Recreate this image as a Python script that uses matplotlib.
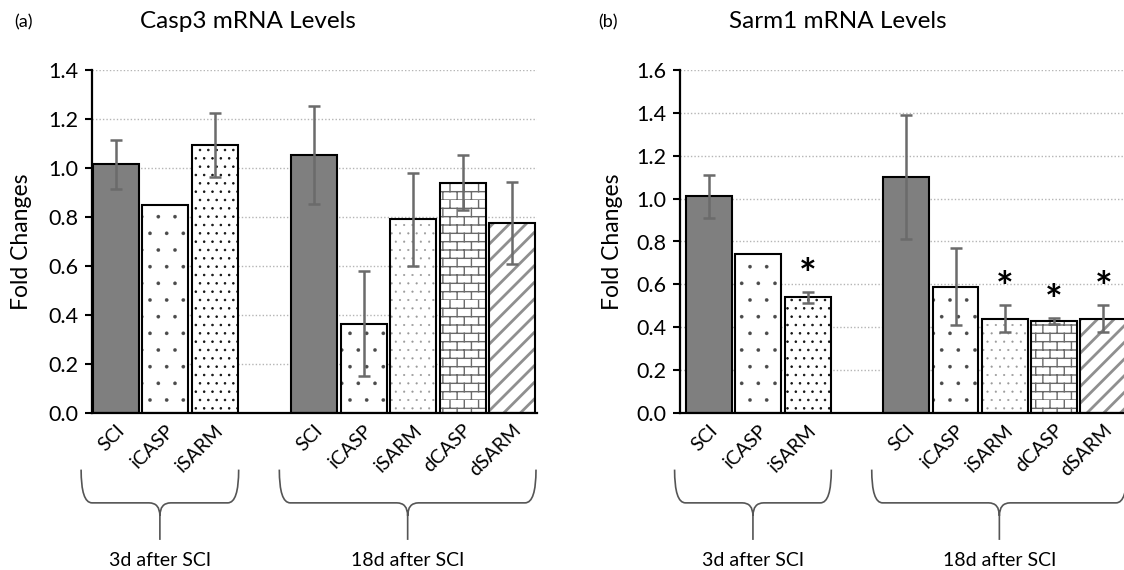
import numpy as np
import matplotlib
matplotlib.use("Agg")
import matplotlib.pyplot as plt
import matplotlib.hatch as mhatch
from matplotlib.path import Path
from matplotlib.patches import PathPatch
from matplotlib import transforms

plt.rcParams['font.family'] = ['Lato', 'DejaVu Sans']
plt.rcParams['hatch.linewidth'] = 0.5

# ---- data ----
groups = ["3d after SCI", "18d after SCI"]
labels = ["SCI", "iCASP", "iSARM", "SCI", "iCASP", "iSARM", "dCASP", "dSARM"]
group_of = [0, 0, 0, 1, 1, 1, 1, 1]
styles = ["solid", "dots", "densedots", "solid", "dots", "lightdots", "brick", "diag"]

casp3_mean = [1.015, 0.85, 1.095, 1.055, 0.365, 0.79, 0.94, 0.775]
casp3_err = [0.10, np.nan, 0.13, 0.20, 0.215, 0.19, 0.113, 0.168]
casp3_sig = [False, False, False, False, False, False, False, False]

sarm1_mean = [1.01, 0.74, 0.54, 1.10, 0.59, 0.44, 0.43, 0.44]
sarm1_err = [0.10, np.nan, 0.025, 0.29, 0.18, 0.063, 0.013, 0.063]
sarm1_sig = [False, False, True, False, False, True, True, True]


# brick hatch: takes over the 'O' character (big circles are not used here)
class BrickHatch(mhatch.HatchPatternBase):
    rows = 12
    cols = 7

    def __init__(self, hatch, density):
        self.on = hatch.count('O') > 0
        if self.on:
            self.num_vertices = 2 * self.rows + 2 * self.rows * self.cols
        else:
            self.num_vertices = 0

    def set_vertices_and_codes(self, vertices, codes):
        pts = []
        for r in range(self.rows):
            y0 = r / self.rows
            y1 = (r + 1) / self.rows
            pts.append((0.0, y0))
            pts.append((1.0, y0))
            for c in range(self.cols):
                xx = (c + 0.5 * (r % 2)) / self.cols
                pts.append((xx, y0))
                pts.append((xx, y1))
        vertices[:] = np.array(pts)
        codes[0::2] = Path.MOVETO
        codes[1::2] = Path.LINETO


mhatch._hatch_types = [h for h in mhatch._hatch_types
                       if h is not mhatch.LargeCircles] + [BrickHatch]

style_map = {
    "solid": dict(color="#7f7f7f", edgecolor="#7f7f7f", hatch=None, hlw=0.5),
    "dots": dict(color="white", edgecolor="#4a4a4a", hatch=".", hlw=0.2),
    "densedots": dict(color="white", edgecolor="#111111", hatch="..", hlw=0.6),
    "lightdots": dict(color="white", edgecolor="#999999", hatch="..", hlw=0.3),
    "brick": dict(color="white", edgecolor="#6a6a6a", hatch="O", hlw=1.0),
    "diag": dict(color="white", edgecolor="#8f8f8f", hatch="//", hlw=2.0),
}

x = np.array([0, 1, 2, 4, 5, 6, 7, 8])
width = 0.93


def draw_brace(ax, x0, x1, text):
    trans = transforms.blended_transform_factory(ax.transData, ax.transAxes)
    xc = (x0 + x1) / 2
    yt, ym, ym2, yb = -0.165, -0.262, -0.30, -0.37
    rx = 0.22
    verts = [(x0, yt), (x0, ym), (x0 + rx, ym), (xc - rx, ym), (xc, ym), (xc, ym2), (xc, yb),
             (x1, yt), (x1, ym), (x1 - rx, ym), (xc + rx, ym), (xc, ym), (xc, ym2)]
    codes = [Path.MOVETO, Path.CURVE3, Path.CURVE3, Path.LINETO, Path.CURVE3, Path.CURVE3, Path.LINETO,
             Path.MOVETO, Path.CURVE3, Path.CURVE3, Path.LINETO, Path.CURVE3, Path.CURVE3]
    patch = PathPatch(Path(verts, codes), transform=trans, fill=False,
                      edgecolor="#555555", linewidth=1.2, clip_on=False)
    ax.add_patch(patch)
    ax.text(xc, -0.43, text, transform=trans, ha="center", va="center", fontsize=14)


def draw_panel(ax, means, errs, sig, ymax, xleft):
    for xi, m, st in zip(x, means, styles):
        s = style_map[st]
        bars = ax.bar(xi, m, width, color=s["color"], edgecolor=s["edgecolor"],
                      hatch=s["hatch"], linewidth=0, zorder=2)
        for b in bars:
            if hasattr(b, "set_hatch_linewidth"):
                b.set_hatch_linewidth(s["hlw"])
    ax.bar(x, means, width, fill=False, edgecolor="black", linewidth=1.5, zorder=3)

    errs = np.array(errs, dtype=float)
    ok = ~np.isnan(errs)
    ax.errorbar(x[ok], np.array(means)[ok], yerr=errs[ok], fmt="none", ecolor="#6b6b6b",
                elinewidth=1.8, capsize=4, capthick=1.8, zorder=4)

    for xi, m, e, s in zip(x, means, errs, sig):
        if s:
            top = m + (0 if np.isnan(e) else e)
            ax.text(xi, top + 0.07, "*", ha="center", va="center", fontsize=30,
                    fontweight="bold", zorder=5)

    ax.set_xlim(xleft, 8.5)
    ax.set_ylim(0, ymax)
    ax.set_yticks(np.arange(0, ymax + 0.01, 0.2))
    ax.set_yticklabels([f"{v:.1f}" for v in np.arange(0, ymax + 0.01, 0.2)])
    ax.set_xticks(x)
    ax.set_xticklabels(labels, rotation=45, ha="right", rotation_mode="anchor", fontsize=14)
    ax.tick_params(axis="x", length=0, pad=6)
    ax.tick_params(axis="y", length=5, width=1.5, labelsize=15.5, pad=5)
    ax.yaxis.grid(True, linestyle=(0, (1, 1.5)), color="#b5b5b5", linewidth=1)
    ax.set_axisbelow(True)
    for side in ["top", "right"]:
        ax.spines[side].set_visible(False)
    ax.spines["left"].set_linewidth(1.6)
    ax.spines["bottom"].set_linewidth(1.6)
    ax.set_ylabel("Fold Changes", fontsize=16.5)

    for g, name in enumerate(groups):
        gx = x[np.array(group_of) == g]
        draw_brace(ax, gx[0] - 0.7, gx[-1] + 0.48, name)


fig = plt.figure(figsize=(11.24, 5.70), dpi=100)
ax1 = fig.add_axes([92 / 1124, 157 / 570, 445 / 1124, 343 / 570])
ax2 = fig.add_axes([680 / 1124, 157 / 570, 448 / 1124, 343 / 570])

draw_panel(ax1, casp3_mean, casp3_err, casp3_sig, 1.4, -0.48)
draw_panel(ax2, sarm1_mean, sarm1_err, sarm1_sig, 1.6, -0.59)
ax1.yaxis.set_label_coords(-0.135, 0.5)
ax2.yaxis.set_label_coords(-0.128, 0.5)

fig.text(248 / 1124, 1 - 22 / 570, "Casp3 mRNA Levels", fontsize=17.5, ha="center", va="center")
fig.text(838 / 1124, 1 - 22 / 570, "Sarm1 mRNA Levels", fontsize=17.5, ha="center", va="center")
fig.text(14 / 1124, 1 - 22 / 570, "(a)", fontsize=13, ha="left", va="center")
fig.text(598 / 1124, 1 - 22 / 570, "(b)", fontsize=13, ha="left", va="center")

fig.savefig("out.png", dpi=100)
